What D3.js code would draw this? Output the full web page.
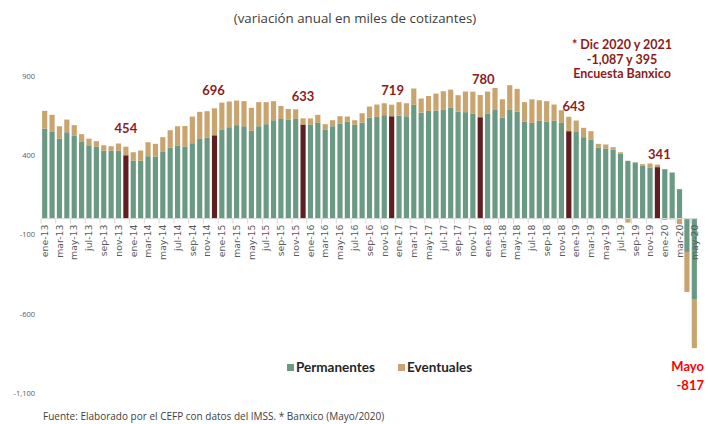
<!DOCTYPE html>
<html>
<head>
<meta charset="utf-8">
<script src="https://cdn.jsdelivr.net/npm/d3@7"></script>
<style>
  html, body { margin: 0; padding: 0; background: #ffffff; }
  svg { display: block; }
</style>
</head>
<body>
<svg id="chart" width="708" height="424"></svg>
<script>
// ---------------- DATA ----------------
const categories = [
  "ene-13","feb-13","mar-13","abr-13","may-13","jun-13","jul-13","ago-13","sep-13","oct-13","nov-13","dic-13",
  "ene-14","feb-14","mar-14","abr-14","may-14","jun-14","jul-14","ago-14","sep-14","oct-14","nov-14","dic-14",
  "ene-15","feb-15","mar-15","abr-15","may-15","jun-15","jul-15","ago-15","sep-15","oct-15","nov-15","dic-15",
  "ene-16","feb-16","mar-16","abr-16","may-16","jun-16","jul-16","ago-16","sep-16","oct-16","nov-16","dic-16",
  "ene-17","feb-17","mar-17","abr-17","may-17","jun-17","jul-17","ago-17","sep-17","oct-17","nov-17","dic-17",
  "ene-18","feb-18","mar-18","abr-18","may-18","jun-18","jul-18","ago-18","sep-18","oct-18","nov-18","dic-18",
  "ene-19","feb-19","mar-19","abr-19","may-19","jun-19","jul-19","ago-19","sep-19","oct-19","nov-19","dic-19",
  "ene-20","feb-20","mar-20","abr-20","may-20"
];

// Permanentes (thousands)
const permanentes = [
  568,547,505,545,522,484,463,453,428,428,428,400,
  365,365,394,390,421,447,459,453,476,503,510,526,
  560,577,590,583,554,583,596,621,629,623,629,594,
  592,604,560,583,598,613,592,606,638,642,653,646,
  650,646,718,669,680,682,686,699,676,672,661,640,
  661,690,636,686,674,611,604,617,611,617,604,552,
  547,514,497,449,440,436,411,365,354,333,323,325,
  312,291,186,-210,-507
];

// Eventuales (thousands)
const eventuales = [
  112,108,78,80,68,49,42,36,35,29,46,54,
  54,65,88,82,93,111,124,132,168,171,168,170,
  172,162,155,158,145,152,139,120,82,69,61,39,
  40,51,36,38,48,31,29,59,69,78,75,73,
  85,82,103,89,94,107,118,115,103,130,140,140,
  141,135,117,156,145,124,149,130,130,103,80,91,
  72,59,55,23,28,15,8,-25,2,11,25,16,
  -8,-4,-35,-252,-310
];

const yTicks = [900, 400, -100, -600, -1100];

// December totals labelled on the chart
const decCats   = ["dic-13","dic-14","dic-15","dic-16","dic-17","dic-18","dic-19"];
const decTexts  = ["454","696","633","719","780","643","341"];
const decDx     = [0, -1, 0, 1, 3, 5, 2];
const decDy     = [-14, -13, -17, -10, -11, -6, -6];

const seriesNames = ["Permanentes","Eventuales"];
const noteLines = ["* Dic 2020 y 2021", "-1,087 y 395", "Encuesta Banxico"];
const mayoLines = ["Mayo", "-817"];
const titleText = "(variación anual en miles de cotizantes)";
const sourceText = "Fuente: Elaborado por el CEFP con datos del IMSS. * Banxico (Mayo/2020)";

// ---------------- STYLE ----------------
const colPerm = "#6b9a84";
const colEvent = "#c9a46e";
const colDec = "#5f1f20";
const colLabel = "#8b1c1c";
const baseFont = "'Open Sans', 'DejaVu Sans', sans-serif";
const axisFont = "'DejaVu Sans', 'Open Sans', sans-serif";
const boldFont = "Lato, 'Open Sans', sans-serif";

// ---------------- CHART ----------------
const svg = d3.select("#chart");

const x = d3.scaleBand()
  .domain(categories)
  .range([41, 698])
  .paddingInner(0.3)
  .paddingOuter(0.15);

const y = d3.scaleLinear()
  .domain([-1100, 900])
  .range([393, 76]);

const table = categories.map((c, i) => ({
  cat: c, Permanentes: permanentes[i], Eventuales: eventuales[i]
}));

const stack = d3.stack()
  .keys(seriesNames)
  .offset(d3.stackOffsetDiverging);
const stacked = stack(table);

// title
svg.append("text")
  .attr("x", 355).attr("y", 23)
  .attr("text-anchor", "middle")
  .attr("font-family", baseFont)
  .attr("font-size", 13.3)
  .attr("fill", "#404040")
  .text(titleText);

// y axis labels (no line)
const fmt = v => d3.format(",")(v).replace("−", "-");
const yAxis = d3.axisLeft(y).tickValues(yTicks).tickFormat(fmt).tickSize(0).tickPadding(0);
const gy = svg.append("g").attr("transform", "translate(35,0)").call(yAxis);
gy.select(".domain").remove();
gy.selectAll("text")
  .attr("font-family", baseFont)
  .attr("font-size", 7.5)
  .attr("fill", "#595959");

// bars
const groups = svg.append("g").selectAll("g")
  .data(stacked)
  .join("g");

groups.selectAll("rect")
  .data(s => s.map(d => ({ key: s.key, d })))
  .join("rect")
  .attr("x", o => x(o.d.data.cat))
  .attr("width", x.bandwidth())
  .attr("y", o => y(Math.max(o.d[0], o.d[1])))
  .attr("height", o => Math.abs(y(o.d[0]) - y(o.d[1])))
  .attr("fill", o => o.key === "Eventuales" ? colEvent
      : (o.d.data.cat.startsWith("dic") ? colDec : colPerm));

// x axis at zero
const step = x.step();
const tickCats = categories.filter((c, i) => i % 2 === 0);
const gx = svg.append("g").attr("transform", `translate(0,${y(0)})`);
gx.append("line")
  .attr("x1", x.range()[0]).attr("x2", x.range()[1])
  .attr("y1", 0).attr("y2", 0)
  .attr("stroke", "#d9d9d9").attr("stroke-width", 1);
gx.selectAll("line.tick")
  .data(tickCats)
  .join("line")
  .attr("class", "tick")
  .attr("x1", c => x(c) - step * x.paddingInner() / 2)
  .attr("x2", c => x(c) - step * x.paddingInner() / 2)
  .attr("y1", 0).attr("y2", 5)
  .attr("stroke", "#d9d9d9").attr("stroke-width", 1);
gx.selectAll("text")
  .data(tickCats)
  .join("text")
  .attr("transform", c => `translate(${x(c) + x.bandwidth() / 2},6) rotate(-90)`)
  .attr("text-anchor", "end")
  .attr("dy", "0.35em")
  .attr("font-family", axisFont)
  .attr("font-size", 9.3)
  .attr("fill", "#595959")
  .text(c => c);

// December labels
const totalOf = c => {
  const i = categories.indexOf(c);
  return permanentes[i] + eventuales[i];
};
svg.append("g").selectAll("text")
  .data(decCats)
  .join("text")
  .attr("x", (c, i) => x(c) + x.bandwidth() / 2 + decDx[i])
  .attr("y", (c, i) => y(totalOf(c)) + decDy[i])
  .attr("text-anchor", "middle")
  .attr("font-family", boldFont)
  .attr("font-weight", "bold")
  .attr("font-size", 13)
  .attr("fill", colLabel)
  .text((c, i) => decTexts[i]);

// note top right
svg.append("g").selectAll("text")
  .data(noteLines)
  .join("text")
  .attr("x", 622)
  .attr("y", (d, i) => 49 + i * 14.5)
  .attr("text-anchor", "middle")
  .attr("font-family", boldFont)
  .attr("font-weight", "bold")
  .attr("font-size", 12.5)
  .attr("fill", colLabel)
  .text(d => d);

// Mayo -817
svg.append("g").selectAll("text")
  .data(mayoLines)
  .join("text")
  .attr("x", 704)
  .attr("y", (d, i) => 371 + i * 19)
  .attr("text-anchor", "end")
  .attr("font-family", boldFont)
  .attr("font-weight", "bold")
  .attr("font-size", 13)
  .attr("fill", "#ff0000")
  .text(d => d);

// legend
const legendX = [287, 398];
const lg = svg.append("g").selectAll("g")
  .data(seriesNames)
  .join("g")
  .attr("transform", (d, i) => `translate(${legendX[i]},364)`);
lg.append("rect")
  .attr("width", 7).attr("height", 7)
  .attr("fill", (d, i) => i === 0 ? colPerm : colEvent);
lg.append("text")
  .attr("x", 9).attr("y", 8)
  .attr("font-family", boldFont)
  .attr("font-weight", "bold")
  .attr("font-size", 13.5)
  .attr("fill", "#262626")
  .text(d => d);

// source
svg.append("text")
  .attr("x", 43).attr("y", 420)
  .attr("font-family", baseFont)
  .attr("font-size", 10)
  .attr("fill", "#404040")
  .text(sourceText);
</script>
</body>
</html>
